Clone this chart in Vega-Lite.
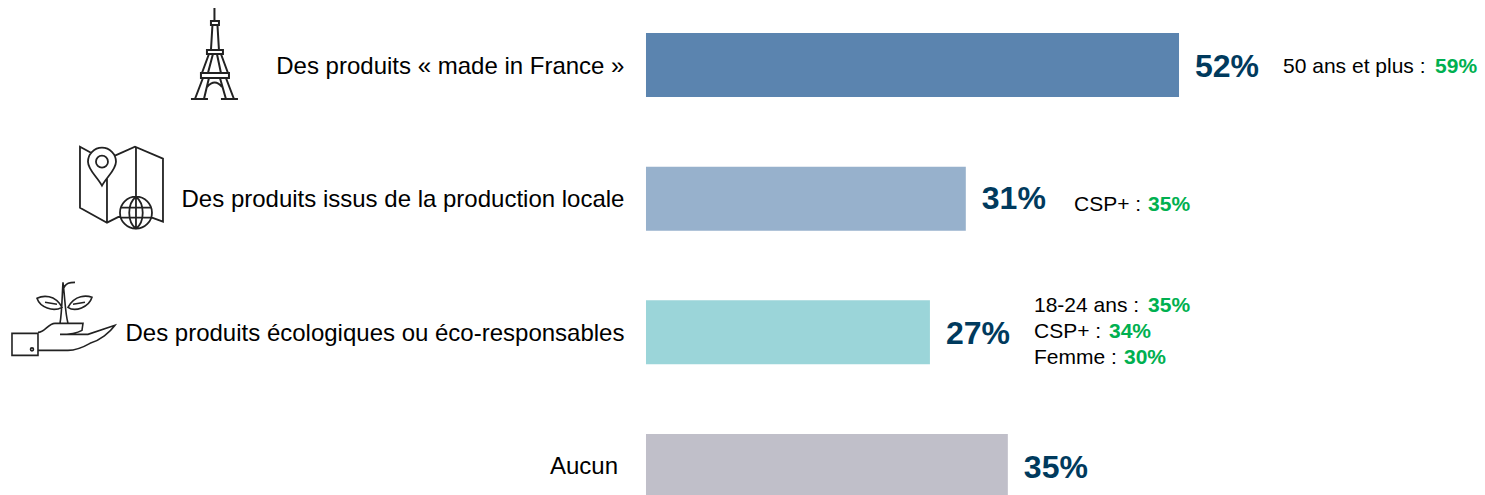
{"$schema":"https://vega.github.io/schema/vega-lite/v6.json","width":1485,"height":495,"autosize":{"type":"fit","contains":"padding"},"padding":0,"background":"white","config":{"view":{"stroke":null},"text":{"font":"Liberation Sans"}},"datasets":{"bars":[{"category":"Des produits « made in France »","value":52,"label":"52%"},{"category":"Des produits issus de la production locale","value":31.2,"label":"31%"},{"category":"Des produits écologiques ou éco-responsables","value":27.7,"label":"27%"},{"category":"Aucun","value":35.3,"label":"35%"}],"notes":[{"id":"a","category":"Des produits « made in France »","who":"50 ans et plus :","share":"59%"},{"id":"b","category":"Des produits issus de la production locale","who":"CSP+ :","share":"35%"},{"id":"c","category":"Des produits écologiques ou éco-responsables","who":"18-24 ans :","share":"35%"},{"id":"d","category":"Des produits écologiques ou éco-responsables","who":"CSP+ :","share":"34%"},{"id":"e","category":"Des produits écologiques ou éco-responsables","who":"Femme :","share":"30%"}]},"data":{"name":"bars"},"encoding":{"y":{"field":"category","type":"nominal","axis":null,"sort":null,"scale":{"type":"point","padding":0,"domain":["Des produits « made in France »","Des produits issus de la production locale","Des produits écologiques ou éco-responsables","Aucun"],"range":[65,466]}}},"layer":[{"mark":{"type":"bar","size":64},"encoding":{"x":{"field":"value","type":"quantitative","axis":null,"scale":{"domain":[-63.02,81.85],"nice":false,"zero":false}},"color":{"field":"category","type":"nominal","legend":null,"scale":{"domain":["Des produits « made in France »","Des produits issus de la production locale","Des produits écologiques ou éco-responsables","Aucun"],"range":["#5B84AF","#97B1CC","#9BD5D9","#C0BFC9"]}}}},{"transform":[{"filter":"datum.category !== 'Aucun'"}],"mark":{"type":"text","align":"right","baseline":"middle","fontSize":24,"dy":1.5,"color":"#000000"},"encoding":{"x":{"datum":-2.1},"text":{"field":"category"}}},{"transform":[{"filter":"datum.category === 'Aucun'"}],"mark":{"type":"text","align":"right","baseline":"middle","fontSize":24,"dy":1,"color":"#000000"},"encoding":{"x":{"datum":-2.73},"text":{"field":"category"}}},{"transform":[{"filter":"datum.label !== '31%'"}],"mark":{"type":"text","align":"left","baseline":"middle","dx":16,"dy":2,"fontSize":32,"fontWeight":"bold","color":"#003A5D"},"encoding":{"x":{"field":"value","type":"quantitative"},"text":{"field":"label"}}},{"transform":[{"filter":"datum.label === '31%'"}],"mark":{"type":"text","align":"left","baseline":"middle","dx":16,"dy":0.5,"fontSize":32,"fontWeight":"bold","color":"#003A5D"},"encoding":{"x":{"field":"value","type":"quantitative"},"text":{"field":"label"}}},{"transform":[{"filter":"datum.label === '52%'"}],"mark":{"type":"point","size":4,"filled":false,"stroke":"#222222","strokeWidth":2,"opacity":1,"shape":"M-0.5,-57 L-0.5,-44 M-4,-44 H4 V-40 H-4 Z M-2.5,-40 L-4,-15 M2.5,-40 L4,-15 M-8,-15 H8 V-11 H-8 Z M-6,-11 L-13,8 M-2,-11 L-7,8 M2,-11 L6,8 M6,-11 L13,8 M-14,8 H14 V13 H-14 Z M-12,13 L-20,34 M-6,13 L-11,34 M11,13 L19,34 M5,13 L11,34 M-8,22 Q0,13 7,22 M-24,34 H-7 M6,34 H23"},"encoding":{"x":{"datum":-42.05}}},{"transform":[{"filter":"datum.label === '31%'"}],"mark":{"type":"point","size":4,"filled":false,"stroke":"#222222","strokeWidth":1.8,"opacity":1,"shape":"M-1,17 L-15,24 L-42,9 L-42,-52 L-31,-46 M-7,-43 L13,-52 L41,-40 L41,23 L30,19 M-15,-20 L-15,24 M14,-52 L14,-2 M-34,-37 A14,14 0 1 1 -6,-37 C-6,-29 -15,-22 -20,-13 C-25,-22 -34,-29 -34,-37 Z M-26,-37 A6,6 0 1 1 -14,-37 A6,6 0 1 1 -26,-37 Z M-2,14 A16,16 0 1 1 30,14 A16,16 0 1 1 -2,14 Z M14,-2 C5,5 5,23 14,30 C23,23 23,5 14,-2 M14,-2 L14,30 M-1,9 L29,9 M-1,19 L29,19"},"encoding":{"x":{"datum":-51.12}}},{"transform":[{"filter":"datum.label === '27%'"}],"mark":{"type":"point","size":4,"filled":false,"stroke":"#222222","strokeWidth":1.6,"opacity":1,"shape":"M-53,1 H-27 V23 H-53 Z M-27,0 C-20,0 -17,-9 -10,-9 L18,-9 L17,-2 C10,2 2,2 -5,2 L23,2 L50,-7 C45,0 35,8 25,11 C18,15 10,18 3,18 L-27,18 M-34.5,17 A1.5,1.5 0 1 1 -31.5,17 A1.5,1.5 0 1 1 -34.5,17 Z M-5,-9 C-3,-20 -3,-35 -2,-50 M3,-9 C0,-20 0,-35 -2,-50 M-3,-25 C-10,-38 -22,-37 -28,-34 C-25,-25 -12,-20 -3,-25 Z M3,-25 C10,-38 22,-37 27,-35 C24,-25 10,-20 3,-25 Z M-2,-42 C0,-50 6,-50 10,-50 M-20,-30 L-8,-28 M20,-30 L8,-28"},"encoding":{"x":{"datum":-56.68}}},{"data":{"name":"notes"},"transform":[{"filter":"datum.id === 'a'"}],"layer":[{"mark":{"type":"text","align":"left","baseline":"middle","fontSize":21,"dy":2,"color":"#000000"},"encoding":{"x":{"datum":62.15},"text":{"field":"who"}}},{"mark":{"type":"text","align":"left","baseline":"middle","fontSize":21,"dy":2,"fontWeight":"bold","color":"#00B050"},"encoding":{"x":{"datum":76.98},"text":{"field":"share"}}}]},{"data":{"name":"notes"},"transform":[{"filter":"datum.id === 'b'"}],"layer":[{"mark":{"type":"text","align":"left","baseline":"middle","fontSize":21,"dy":6,"color":"#000000"},"encoding":{"x":{"datum":41.76},"text":{"field":"who"}}},{"mark":{"type":"text","align":"left","baseline":"middle","fontSize":21,"dy":6,"fontWeight":"bold","color":"#00B050"},"encoding":{"x":{"datum":48.98},"text":{"field":"share"}}}]},{"data":{"name":"notes"},"transform":[{"filter":"datum.id === 'c'"}],"layer":[{"mark":{"type":"text","align":"left","baseline":"middle","fontSize":21,"dy":-26,"color":"#000000"},"encoding":{"x":{"datum":37.85},"text":{"field":"who"}}},{"mark":{"type":"text","align":"left","baseline":"middle","fontSize":21,"dy":-26,"fontWeight":"bold","color":"#00B050"},"encoding":{"x":{"datum":48.98},"text":{"field":"share"}}}]},{"data":{"name":"notes"},"transform":[{"filter":"datum.id === 'd'"}],"layer":[{"mark":{"type":"text","align":"left","baseline":"middle","fontSize":21,"dy":0,"color":"#000000"},"encoding":{"x":{"datum":37.85},"text":{"field":"who"}}},{"mark":{"type":"text","align":"left","baseline":"middle","fontSize":21,"dy":0,"fontWeight":"bold","color":"#00B050"},"encoding":{"x":{"datum":45.17},"text":{"field":"share"}}}]},{"data":{"name":"notes"},"transform":[{"filter":"datum.id === 'e'"}],"layer":[{"mark":{"type":"text","align":"left","baseline":"middle","fontSize":21,"dy":26,"color":"#000000"},"encoding":{"x":{"datum":37.85},"text":{"field":"who"}}},{"mark":{"type":"text","align":"left","baseline":"middle","fontSize":21,"dy":26,"fontWeight":"bold","color":"#00B050"},"encoding":{"x":{"datum":46.63},"text":{"field":"share"}}}]}]}
